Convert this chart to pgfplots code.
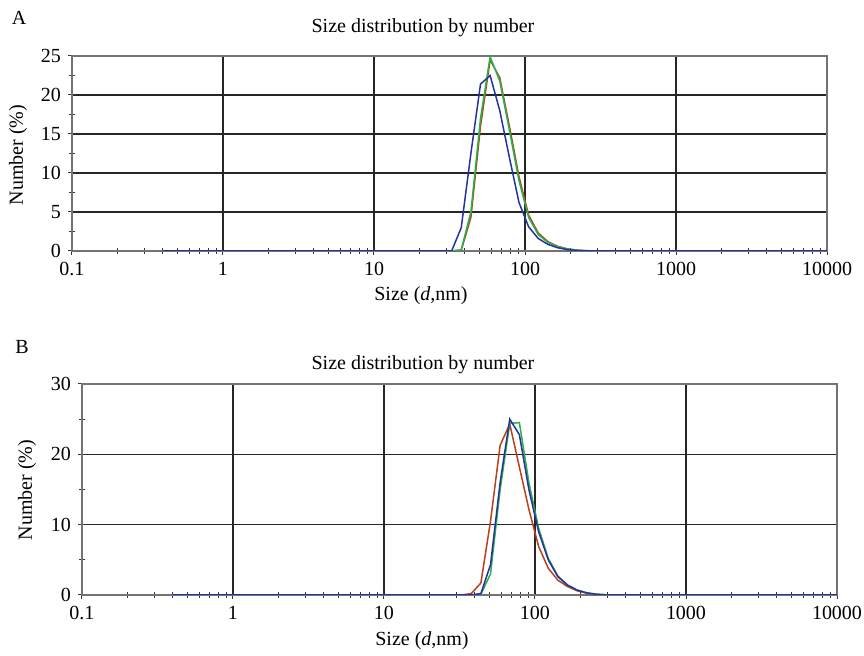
\documentclass[border=0pt]{standalone}
\usepackage{fontspec}
\setmainfont{Liberation Serif}
\usepackage{pgfplots}
\pgfplotsset{compat=1.18}

\definecolor{dlsred}{rgb}{0.72,0.26,0.10}
\definecolor{dlsgreen}{rgb}{0.16,0.70,0.30}
\definecolor{dlsblue}{rgb}{0.15,0.20,0.62}

\pgfplotsset{
  dls/.style={
    scale only axis, width=377.5pt, anchor=south west,
    xmin=0.1, xmax=10000, ymin=0,
    log ticks with fixed point,
    /pgf/number format/1000 sep={},
    /pgf/number format/assume math mode=true,
    tick pos=left, tick align=center,
    major tick length=4pt, minor tick length=3pt,
    grid=major, major grid style={black!85, line width=0.6pt},
    axis line style={black!55, line width=0.6pt},
    tick style={black!80, line width=0.5pt},
    ticklabel style={font=\normalsize},
    every axis plot/.append style={line width=0.75pt, no marks},
  },
}

\begin{document}
\begin{tikzpicture}
\useasboundingbox (0,0) rectangle (432pt,328pt);

% panel A
\begin{semilogxaxis}[dls, at={(36pt,202.5pt)}, height=97.5pt,
  ymax=25, ytick={0,5,...,25}, minor y tick num=1]
\addplot[dlsred] coordinates {(0.4,0)(32.67,0)(37.84,0.1)(43.82,4.3)(50.75,16.0)(58.77,24.5)(68.06,22.2)(78.82,16.0)(91.28,9.5)(105.7,4.6)(122.4,2.3)(141.8,1.2)(164.2,0.6)(190.1,0.28)(220.2,0.11)(255.0,0.04)(295.3,0.01)(342.0,0)(10000,0)};
\addplot[dlsgreen] coordinates {(0.4,0)(32.67,0)(37.84,0.15)(43.82,5.0)(50.75,17.0)(58.77,24.9)(68.06,21.8)(78.82,15.5)(91.28,9.0)(105.7,4.3)(122.4,2.1)(141.8,1.1)(164.2,0.55)(190.1,0.25)(220.2,0.1)(255.0,0.03)(295.3,0.01)(342.0,0)(10000,0)};
\addplot[dlsblue] coordinates {(0.4,0)(32.67,0)(37.84,3.0)(43.82,12.5)(50.75,21.4)(58.77,22.5)(68.06,18.0)(78.82,12.0)(91.28,6.2)(105.7,3.1)(122.4,1.6)(141.8,0.85)(164.2,0.42)(190.1,0.18)(220.2,0.06)(255.0,0.01)(295.3,0)(10000,0)};
\end{semilogxaxis}
\node at (9.5pt,319pt) {A};
\node at (211.5pt,314pt) {Size distribution by number};
\node at (210.5pt,180pt) {Size (\textit{d},nm)};
\node[rotate=90] at (9pt,250.5pt) {Number (\%)};

% panel B
\begin{semilogxaxis}[dls, at={(41pt,30.5pt)}, height=105.5pt,
  ymax=30, ytick={0,10,20,30}, minor y tick num=1]
\addplot[dlsred] coordinates {(0.4,0)(32.67,0)(37.84,0.2)(43.82,1.7)(50.75,10.5)(58.77,21.3)(68.06,24.3)(78.82,18.2)(91.28,12.1)(105.7,6.9)(122.4,3.8)(141.8,2.1)(164.2,1.2)(190.1,0.6)(220.2,0.25)(255.0,0.08)(295.3,0.02)(342.0,0)(10000,0)};
\addplot[dlsgreen] coordinates {(0.4,0)(37.84,0)(43.82,0.1)(50.75,3.0)(58.77,15.0)(68.06,24.4)(78.82,24.5)(91.28,15.9)(105.7,9.5)(122.4,5.2)(141.8,2.7)(164.2,1.4)(190.1,0.7)(220.2,0.3)(255.0,0.1)(295.3,0.02)(342.0,0)(10000,0)};
\addplot[dlsblue] coordinates {(0.4,0)(37.84,0)(43.82,0.2)(50.75,4.3)(58.77,16.0)(68.06,25.0)(78.82,22.8)(91.28,14.9)(105.7,9.0)(122.4,5.0)(141.8,2.6)(164.2,1.4)(190.1,0.7)(220.2,0.3)(255.0,0.1)(295.3,0.02)(342.0,0)(10000,0)};
\end{semilogxaxis}
\node at (11pt,154.5pt) {B};
\node at (211.5pt,145.5pt) {Size distribution by number};
\node at (211pt,7.5pt) {Size (\textit{d},nm)};
\node[rotate=90] at (13.5pt,83pt) {Number (\%)};
\end{tikzpicture}
\end{document}
